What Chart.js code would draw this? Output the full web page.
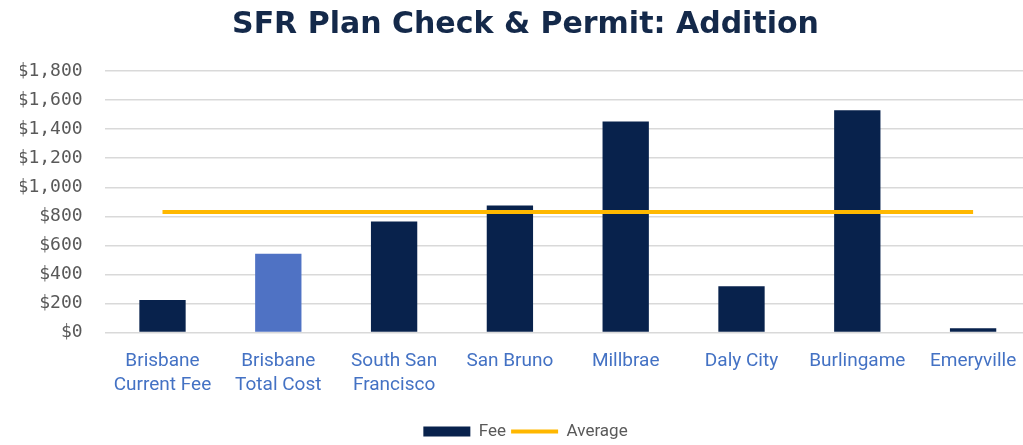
<!DOCTYPE html>
<html>
<head>
<meta charset="utf-8">
<script src="https://cdn.jsdelivr.net/npm/chart.js@4"></script>
<style>
  html, body { margin: 0; padding: 0; background: #fff; overflow: hidden; }
  #wrap { width: 1050px; height: 445px; }
</style>
</head>
<body>
<div id="wrap"><canvas id="myChart" width="1050" height="445"></canvas></div>
<script>
// categories (two-line labels)
const cities = [
    ['Brisbane', 'Current Fee'],
    ['Brisbane', 'Total Cost'],
    ['South San', 'Francisco'],
    'San Bruno',
    'Millbrae',
    'Daly City',
    'Burlingame',
    'Emeryville'
]
const fees = [225, 542, 764, 874, 1452, 319, 1530, 30]
const average = [830, 830, 830, 830, 830, 830, 830, 830]
const yTicks = [0, 200, 400, 600, 800, 1000, 1200, 1400, 1600, 1800]

const navy = '#08224c'
const lightBlue = '#4f72c4'
const barColors = fees.map((v, i) => i === 1 ? lightBlue : navy)

const ctx = document.getElementById('myChart').getContext('2d');
const myChart = new Chart(ctx, {
    type: 'bar',
    data: {
        labels: cities,
        datasets: [
            {
                label: 'Fee',
                data: fees,
                backgroundColor: barColors,
                borderWidth: 0,
                barPercentage: 0.4,
                categoryPercentage: 1,
                pointStyle: 'rect',
                order: 2
            },
            {
                type: 'line',
                label: 'Average',
                data: average,
                borderColor: '#ffb800',
                backgroundColor: '#ffb800',
                borderWidth: 4,
                pointRadius: 0,
                pointStyle: 'line',
                fill: false,
                order: 1
            }
        ]
    },
    options: {
        responsive: false,
        animation: false,
        layout: {
            padding: { left: 20, right: 19, top: 0, bottom: -5 }
        },
        plugins: {
            title: {
                display: true,
                text: 'SFR Plan Check & Permit: Addition',
                color: '#14294a',
                font: { family: "'DejaVu Sans', sans-serif", size: 30, weight: 'bold' },
                padding: { top: 7, bottom: 28 }
            },
            legend: {
                position: 'bottom',
                labels: {
                    sort: (a, b) => a.datasetIndex - b.datasetIndex,
                    usePointStyle: true,
                    pointStyleWidth: 47,
                    boxHeight: 10,
                    padding: 5,
                    color: '#595959',
                    font: { family: "Roboto, sans-serif", size: 17 }
                }
            },
            tooltip: { enabled: false }
        },
        scales: {
            x: {
                grid: { display: false },
                border: { display: false },
                afterFit: axis => {
                    axis.height += 12
                },
                ticks: {
                    color: '#4472c4',
                    maxRotation: 0,
                    autoSkip: false,
                    padding: 8,
                    font: { family: "Roboto, sans-serif", size: 19, lineHeight: 1.3 }
                }
            },
            y: {
                min: 0,
                max: 1800,
                afterBuildTicks: axis => {
                    axis.ticks = yTicks.map(v => ({ value: v }))
                },
                afterFit: axis => {
                    axis.width = 84.6
                },
                grid: { color: '#d9d9d9', lineWidth: 1.5, drawTicks: false },
                border: { display: false },
                ticks: {
                    color: '#595959',
                    padding: 22,
                    font: { family: "'DejaVu Sans Mono', monospace", size: 18 },
                    callback: v => '$' + v.toLocaleString('en-US')
                }
            }
        }
    }
});
</script>
</body>
</html>
